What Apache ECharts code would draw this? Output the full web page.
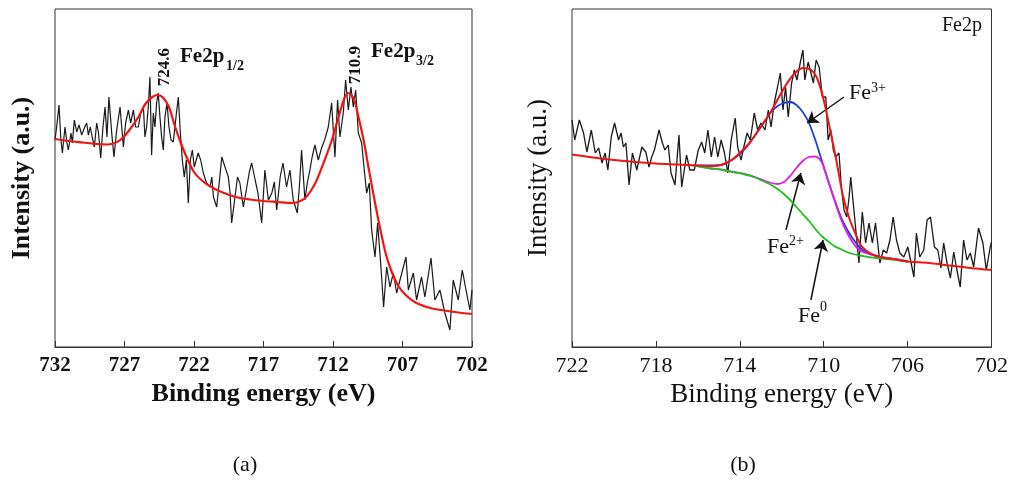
<!DOCTYPE html>
<html>
<head>
<meta charset="utf-8">
<script src="https://cdn.jsdelivr.net/npm/echarts@6/dist/echarts.min.js"></script>
<style>
  html, body { margin: 0; padding: 0; background: #fff; }
  #chart { width: 1011px; height: 485px; }
</style>
</head>
<body>
<div id="chart"></div>
<script>
// Fe 2p XPS spectra: (a) survey of the doublet, (b) deconvoluted Fe2p3/2 region.
// Values are [binding energy (eV), intensity (a.u.)].

// (a) measured spectrum
const spectrumA = [
  [732.00,207],[731.88,220],[731.71,242],[731.59,210],[731.47,194],[731.28,220],[731.14,204],[731.04,197],
  [730.85,214],[730.75,204],[730.61,227],[730.44,215],[730.27,222],[730.08,212],[729.89,219],[729.72,224],
  [729.60,212],[729.46,220],[729.31,209],[729.17,200],[729.00,224],[728.88,215],[728.71,189],[728.55,220],
  [728.40,240],[728.26,210],[728.12,250],[727.92,214],[727.76,190],[727.56,217],[727.32,240],[727.20,220],
  [727.08,200],[726.92,224],[726.72,237],[726.56,224],[726.36,237],[726.20,220],[726.00,220],[725.84,234],
  [725.64,240],[725.53,210],[725.41,220],[725.29,240],[725.17,270],[725.05,192],[724.93,234],[724.81,220],
  [724.69,244],[724.57,254],[724.45,230],[724.33,210],[724.21,197],[724.09,230],[723.94,244],[723.80,220],
  [723.65,207],[723.49,205],[723.32,227],[723.13,250],[722.98,214],[722.84,187],[722.70,170],[722.55,187],
  [722.41,144],[722.26,187],[722.12,197],[721.98,180],[721.70,194],[721.52,187],[721.33,174],[721.10,164],
  [720.85,160],[720.72,170],[720.60,150],[720.37,140],[720.18,165],[720.00,190],[719.77,180],[719.53,170],
  [719.41,155],[719.29,124],[719.05,150],[718.87,170],[718.70,164],[718.45,140],[718.20,160],[718.02,175],
  [717.85,184],[717.60,167],[717.40,154],[717.13,124],[716.90,177],[716.65,147],[716.40,154],[716.22,165],
  [716.05,137],[715.80,170],[715.60,184],[715.34,160],[715.10,177],[714.86,147],[714.57,134],[714.42,160],
  [714.26,197],[714.02,147],[713.84,165],[713.66,177],[713.50,190],[713.30,202],[713.06,187],[712.80,200],
  [712.60,207],[712.34,220],[712.10,244],[711.86,190],[711.67,247],[711.50,210],[711.26,234],[711.09,267],
  [710.90,237],[710.71,260],[710.54,240],[710.37,257],[710.18,214],[709.94,204],[709.75,177],[709.58,154],
  [709.39,164],[709.22,117],[708.98,90],[708.79,124],[708.55,80],[708.36,40],[708.14,80],[707.90,60],
  [707.66,74],[707.42,54],[707.18,67],[706.75,90],[706.58,57],[706.22,74],[705.99,47],[705.63,70],
  [705.39,50],[704.95,89],[704.67,47],[704.31,57],[703.95,34],[703.59,17],[703.35,67],[702.99,47],
  [702.70,77],[702.39,54],[702.15,37],[702.00,57]
];

// (a) fitted envelope
const fitA = [
  [732.0,208],[731.0,206],[730.0,204.5],[729.0,203],[728.3,202.5],[727.8,203.5],[727.3,207],[726.7,216],
  [726.0,230],[725.5,243],[725.0,250],[724.6,252],[724.2,249],[723.8,240],[723.4,222],[723.0,206],
  [722.6,192],[722.0,175],[721.3,165],[720.5,158],[720.0,155],[719.0,150],[718.0,147.5],[717.0,146],
  [716.0,145],[715.0,144],[714.5,145],[714.0,149],[713.6,156],[713.2,166],[712.6,187],[712.1,206],
  [711.6,230],[711.2,248],[710.9,254],[710.5,248],[710.2,232],[709.8,207],[709.4,176],[709.0,146],
  [708.6,118],[708.2,93],[707.8,76],[707.3,61],[706.7,51],[706.0,44],[705.0,39],[704.0,36.5],
  [703.0,34.5],[702.0,33]
];

// (a) peak positions marked on the envelope
const peaksA = [724.6, 710.9];

// (b) measured spectrum
const spectrumB = [
  [722.00,227],[721.87,207],[721.65,227],[721.45,214],[721.29,195],[721.08,217],[720.89,194],[720.73,199],
  [720.57,184],[720.42,194],[720.29,177],[720.13,210],[719.97,224],[719.78,207],[719.66,214],[719.55,200],
  [719.43,204],[719.28,162],[719.12,194],[718.91,177],[718.67,200],[718.48,195],[718.33,180],[718.20,190],
  [718.07,197],[717.85,217],[717.69,204],[717.57,197],[717.41,202],[717.28,174],[717.09,162],[716.90,212],
  [716.77,160],[716.54,192],[716.38,177],[716.17,177],[715.98,197],[715.82,205],[715.67,194],[715.52,217],
  [715.36,190],[715.20,210],[715.05,190],[714.89,207],[714.73,194],[714.57,174],[714.41,207],[714.22,229],
  [714.10,200],[713.94,187],[713.81,200],[713.65,214],[713.50,207],[713.31,234],[713.15,217],[712.99,224],
  [712.80,217],[712.64,237],[712.51,220],[712.35,245],[712.20,260],[712.07,274],[711.94,237],[711.82,260],
  [711.69,230],[711.53,264],[711.40,277],[711.28,267],[711.12,284],[710.99,297],[710.90,267],[710.74,285],
  [710.61,274],[710.49,264],[710.36,287],[710.22,280],[710.06,250],[709.90,250],[709.79,207],[709.66,217],
  [709.54,197],[709.43,190],[709.27,194],[709.16,160],[709.03,137],[708.90,130],[708.79,150],[708.71,170],
  [708.56,137],[708.32,84],[708.16,135],[708.00,104],[707.84,124],[707.68,104],[707.53,124],[707.32,84],
  [707.16,97],[707.00,94],[706.84,107],[706.69,130],[706.53,107],[706.37,94],[706.18,90],[705.99,100],
  [705.86,87],[705.70,70],[705.58,114],[705.42,90],[705.23,97],[705.07,127],[704.91,130],[704.72,100],
  [704.56,97],[704.41,79],[704.28,104],[704.12,84],[703.96,69],[703.80,95],[703.65,77],[703.49,60],
  [703.33,107],[703.17,87],[703.01,94],[702.85,80],[702.62,119],[702.41,104],[702.25,77],[702.06,100],
  [702.00,105]
];

// (b) fitted envelope
const fitB = [
  [722.0,192.5],[721.0,189.5],[720.0,187],[719.0,185],[718.0,183.5],[717.0,182.5],[716.0,181.5],[715.3,181],
  [714.9,182],[714.4,187],[714.0,194],[713.5,205],[713.0,220],[712.5,236],[712.0,255],[711.5,271],
  [711.0,279],[710.6,277],[710.3,268],[710.0,247],[709.7,218],[709.4,187],[709.1,153],[708.8,130],
  [708.5,114],[708.2,101],[707.8,94],[707.3,90],[706.7,88],[706.0,85.5],[705.0,84],[704.0,81.5],
  [703.0,79],[702.0,77]
];

// (b) component curves, sampled on a shared energy grid
const componentEnergyB = [716.2,715.5,714.8,714.3,713.8,713.3,712.9,712.5,712.2,711.9,711.6,711.3,711.0,
  710.7,710.4,710.1,709.8,709.5,709.2,708.9,708.6,708.3,708.0,707.5,707.0,706.5,706.0];
const fe3B = [181.5,181.5,182.5,188,197,211,223,235,241,244,245,242,235,224,207,187,167,148,131,118,108,100,95,91,89,87.5,85.5];
const fe2B = [181.5,179,177,175,173,170,167,164,163,165,171,179,186,190,190.5,185,167,148,129,115,104,97,94,91,89,87.5,85.5];
const fe0B = [181.5,179,177,175,173,170,166,162,158,153,147,140,133,126,118,111,106,101,98,95,93,91.5,90.5,89,88,87,85.5];

// (b) annotation arrows: [from, to] in [eV, intensity]
const arrowsB = [
  [[709.03,250],[710.79,224]],
  [[711.80,117],[711.09,174]],
  [[710.61,47],[710.03,107]]
];

// tick labels
const ticksA = [702,707,712,717,722,727,732];
const ticksB = [702,706,710,714,718,722];

const SERIF = "'Liberation Serif', 'Times New Roman', serif";
const INK = '#111';

const zip = (xs, ys) => xs.map((x, i) => [x, ys[i]]);
const fitValueAt = (fit, e) => fit.find(p => p[0] === e)[1];

function xAxisFor(grid, min, max, ticks, bold) {
  const weight = bold ? 'bold' : 'normal';
  return {
    gridIndex: grid, type: 'value', min, max, inverse: true,
    name: 'Binding energy (eV)', nameLocation: 'middle', nameGap: 34,
    nameTextStyle: { fontFamily: SERIF, fontWeight: weight, fontSize: bold ? 26 : 27, color: INK },
    axisLine: { show: true, lineStyle: { color: '#333', width: 1 } },
    axisTick: { show: true, inside: true, length: 6, customValues: ticks, lineStyle: { color: '#333' } },
    axisLabel: { customValues: ticks, fontFamily: SERIF, fontWeight: weight, fontSize: bold ? 21 : 22, color: INK, margin: 8 },
    splitLine: { show: false }
  };
}
function yAxisFor(grid, bold) {
  return {
    gridIndex: grid, type: 'value', min: 0, max: 338,
    name: 'Intensity (a.u.)', nameLocation: 'middle', nameGap: 20,
    nameTextStyle: { fontFamily: SERIF, fontWeight: bold ? 'bold' : 'normal', fontSize: bold ? 26 : 27, color: INK },
    axisLine: { show: false }, axisTick: { show: false }, axisLabel: { show: false }, splitLine: { show: false }
  };
}
function line(grid, data, color, width, smooth, z) {
  return {
    type: 'line', xAxisIndex: grid, yAxisIndex: grid, data, showSymbol: false, symbol: 'none',
    smooth: smooth ? 0.3 : false, lineStyle: { color, width }, z, silent: true, animation: false
  };
}
function text(x, y, str, size, weight, align) {
  return {
    type: 'text', x, y, silent: true,
    style: { text: str, fontFamily: SERIF, fontSize: size, fontWeight: weight, fill: INK,
      textAlign: align || 'left', textVerticalAlign: 'middle' }
  };
}

const redA = line(0, fitA, '#f01414', 2.2, true, 5);
redA.markPoint = {
  symbol: 'circle', symbolSize: 0, silent: true, animation: false,
  label: {
    show: true, rotate: 90, position: 'inside', offset: [28, 7],
    fontFamily: SERIF, fontWeight: 'bold', fontSize: 17, color: INK,
    formatter: p => p.data.coord[0].toFixed(1)
  },
  data: peaksA.map(e => ({ coord: [e, fitValueAt(fitA, e)] }))
};

const redB = line(1, fitB, '#f01414', 2, true, 6);
redB.markLine = {
  silent: true, animation: false, symbol: ['none', 'arrow'], symbolSize: 11,
  lineStyle: { color: INK, width: 1.5, type: 'solid' }, label: { show: false },
  emphasis: { disabled: true },
  data: arrowsB.map(a => [{ coord: a[0] }, { coord: a[1] }])
};

const option = {
  backgroundColor: '#fff',
  animation: false,
  grid: [
    { left: 55, top: 9, width: 417, height: 338, show: true, borderColor: '#333', borderWidth: 1 },
    { left: 572, top: 9, width: 421, height: 338, show: true, borderColor: '#333', borderWidth: 1 }
  ],
  xAxis: [xAxisFor(0, 702, 732, ticksA, true), xAxisFor(1, 702, 722, ticksB, false)],
  yAxis: [yAxisFor(0, true), yAxisFor(1, false)],
  series: [
    line(0, spectrumA, '#1a1a1a', 1.2, false, 2),
    redA,
    line(1, spectrumB, '#1a1a1a', 1.3, false, 2),
    line(1, zip(componentEnergyB, fe3B), '#1c3fd6', 1.8, true, 3),
    line(1, zip(componentEnergyB, fe2B), '#e619e6', 1.8, true, 4),
    line(1, zip(componentEnergyB, fe0B), '#1fbf1f', 1.8, true, 5),
    redB
  ],
  graphic: [
    text(180, 56.5, 'Fe2p', 21, 'bold'),
    text(226, 66, '1/2', 14, 'bold'),
    text(371, 51.5, 'Fe2p', 21, 'bold'),
    text(416, 61, '3/2', 14, 'bold'),
    text(942, 26, 'Fe2p', 20, 'normal'),
    text(849, 93.5, 'Fe', 22, 'normal'),
    text(871, 88, '3+', 14, 'normal'),
    text(767, 247, 'Fe', 22, 'normal'),
    text(789, 241, '2+', 14, 'normal'),
    text(798, 316, 'Fe', 22, 'normal'),
    text(820, 307.5, '0', 14, 'normal'),
    text(245, 465, '(a)', 22, 'normal', 'center'),
    text(743, 465, '(b)', 22, 'normal', 'center')
  ]
};

const chart = echarts.init(document.getElementById('chart'), null, { renderer: 'canvas' });
chart.setOption(option);
</script>
</body>
</html>
